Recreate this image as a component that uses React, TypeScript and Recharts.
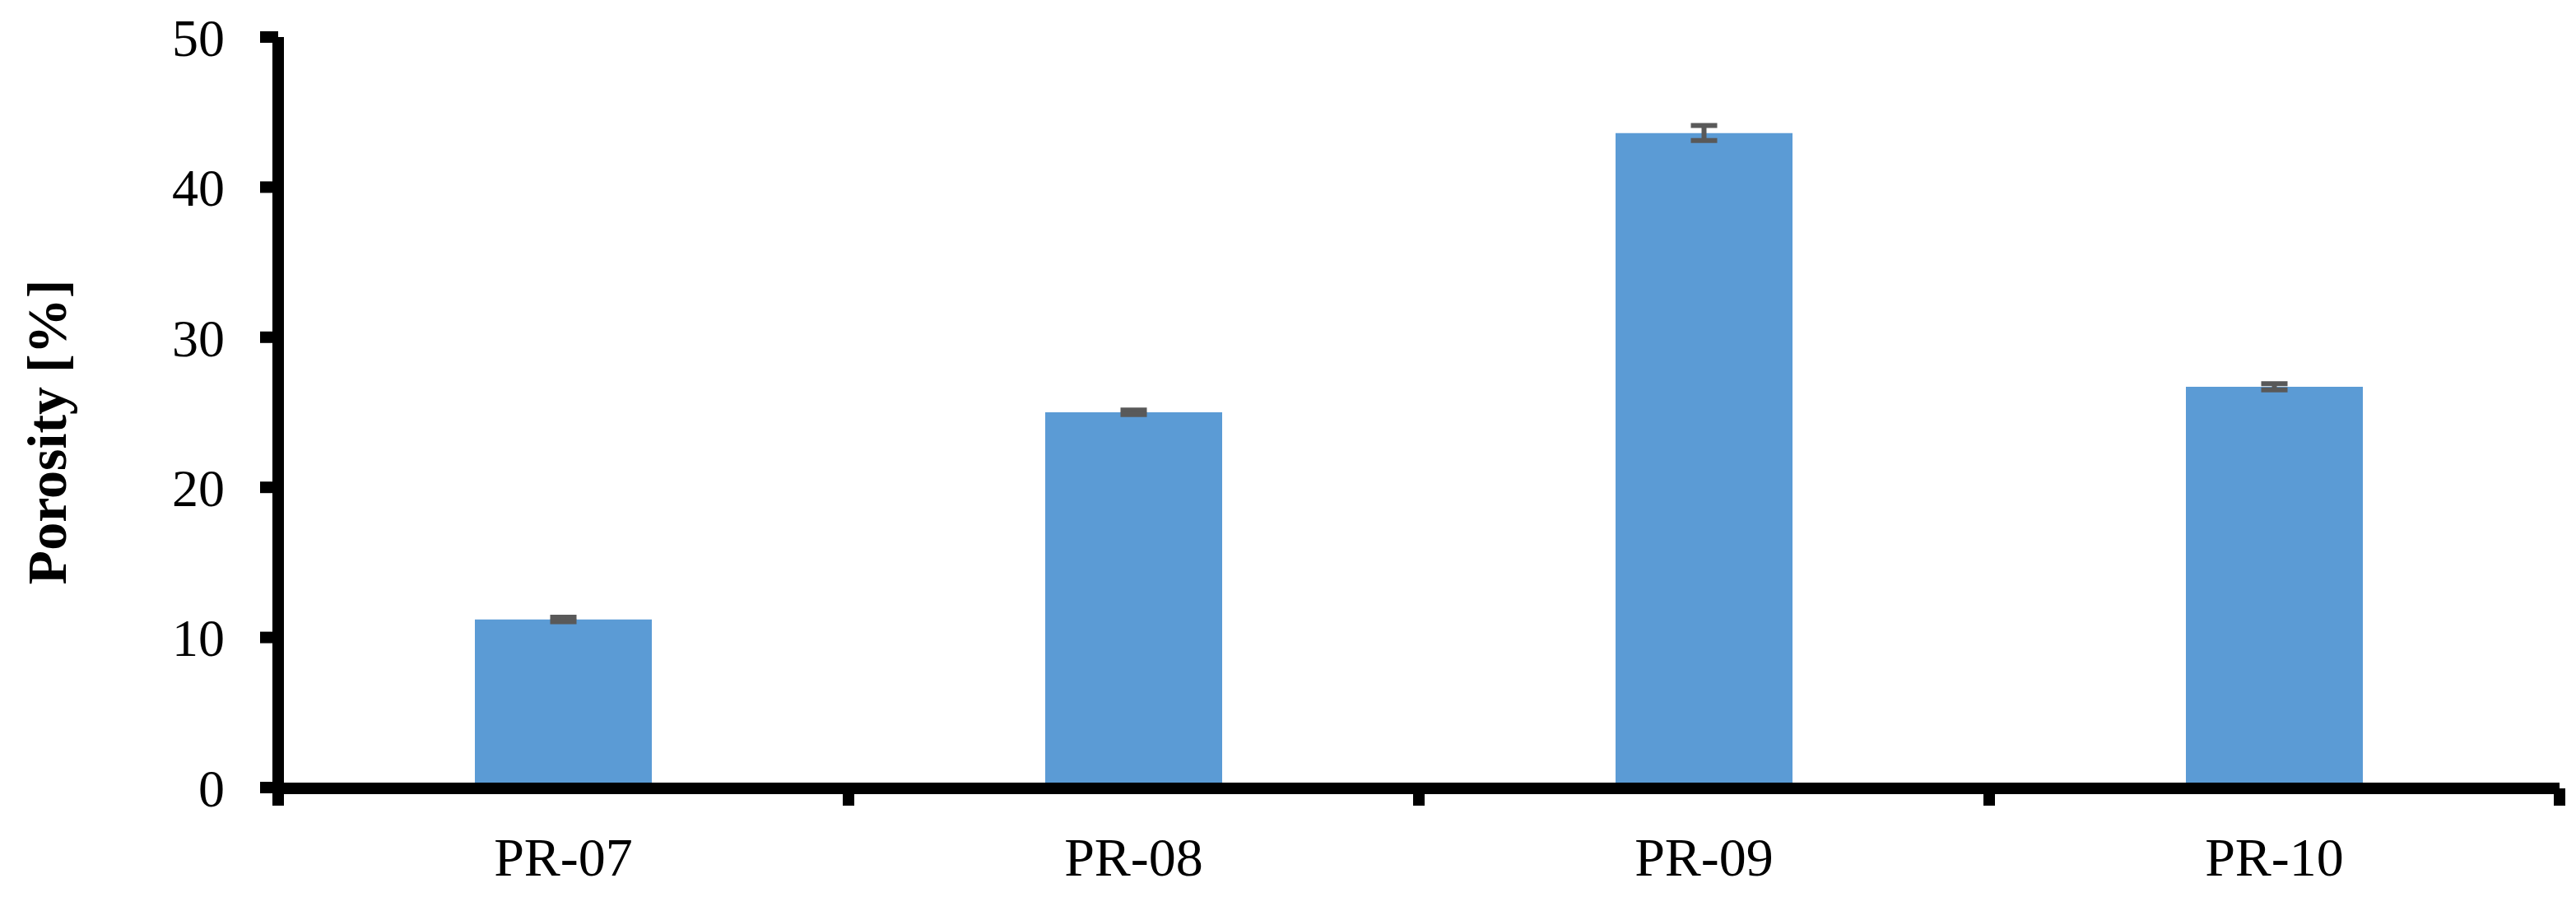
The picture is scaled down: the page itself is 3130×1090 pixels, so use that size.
import { Bar, BarChart, ErrorBar, XAxis, YAxis } from "recharts";

const CATEGORIES = ["PR-07", "PR-08", "PR-09", "PR-10"];
const POROSITY = [11.2, 25.0, 43.6, 26.7];
const POROSITY_ERR = [0.15, 0.15, 0.5, 0.2];
const Y_TICKS = [0, 10, 20, 30, 40, 50];
const EDGE_TICKS = [0, 1, 2, 3, 4];

const FONT = '"Liberation Serif", "Times New Roman", serif';
const BAR_COLOR = "#5B9BD5";
const ERR_COLOR = "#595959";
const AXIS_STROKE = { stroke: "#000", strokeWidth: 14 };

const data = CATEGORIES.map((name, i) => ({
  name,
  pos: i + 0.5, // slot centre on the numeric edge axis
  value: POROSITY[i],
  err: POROSITY_ERR[i],
}));

// rotated y-axis title, placed relative to the axis viewBox
function YTitle(props: any) {
  const { viewBox } = props;
  const x = viewBox.x + 57;
  const y = viewBox.y + viewBox.height / 2 + 24;
  return (
    <text
      x={x}
      y={y}
      transform={`rotate(-90, ${x}, ${y})`}
      textAnchor="middle"
      dominantBaseline="central"
      fontFamily={FONT}
      fontWeight="bold"
      fontSize={68}
      fill="#000"
    >
      Porosity [%]
    </text>
  );
}

// edge axis only needs its tick marks, not labels
const NoLabel = () => <g />;

export default function App() {
  return (
    <div style={{ position: "absolute", left: 0, top: 0, background: "#fff" }}>
      <BarChart
        width={3130}
        height={1090}
        data={data}
        margin={{ top: 45, right: 20, bottom: 0, left: 0 }}
      >
        <XAxis
          xAxisId="edges"
          dataKey="pos"
          type="number"
          domain={[0, 4]}
          ticks={EDGE_TICKS}
          interval={0}
          allowDataOverflow
          tick={<NoLabel />}
          tickSize={21}
          height={132}
          axisLine={AXIS_STROKE}
          tickLine={AXIS_STROKE}
        />
        <XAxis
          xAxisId="cat"
          dataKey="name"
          axisLine={false}
          tickLine={false}
          tickSize={5}
          tickMargin={55}
          height={1}
          tick={{ fontSize: 66, fill: "#000", fontFamily: FONT }}
        />
        <YAxis
          width={338}
          domain={[0, 50]}
          ticks={Y_TICKS}
          interval={0}
          tickSize={22}
          tickMargin={43}
          axisLine={AXIS_STROKE}
          tickLine={AXIS_STROKE}
          tick={{ fontSize: 64, fill: "#000", fontFamily: FONT }}
          label={<YTitle />}
        />
        <Bar xAxisId="cat" dataKey="value" fill={BAR_COLOR} barSize={215} isAnimationActive={false}>
          <ErrorBar
            dataKey="err"
            direction="y"
            width={16}
            strokeWidth={6}
            stroke={ERR_COLOR}
            isAnimationActive={false}
          />
        </Bar>
      </BarChart>
    </div>
  );
}
